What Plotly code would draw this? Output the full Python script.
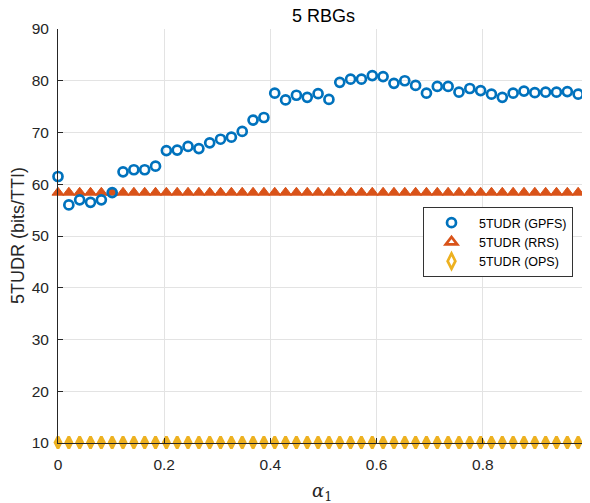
import numpy as np
import plotly.graph_objects as go

alpha = np.linspace(0, 1, 50)

gpfs = [61.5, 56.0, 57.0, 56.5, 57.0, 58.4, 62.4, 62.8, 62.8, 63.5,
        66.5, 66.6, 67.3, 66.9, 68.0, 68.7, 69.1, 70.2, 72.4, 72.9,
        77.6, 76.3, 77.2, 76.8, 77.5, 76.4, 79.7, 80.3, 80.3, 81.0,
        80.8, 79.5, 80.0, 79.1, 77.6, 78.9, 78.9, 77.8, 78.5, 78.1,
        77.4, 76.8, 77.6, 78.0, 77.7, 77.8, 77.8, 77.9, 77.4, 77.1]
rrs_value = 58.4
ops_value = 10.1
rrs = [rrs_value] * len(alpha)
ops = [ops_value] * len(alpha)

names = ["5TUDR (GPFS)", "5TUDR (RRS)", "5TUDR (OPS)"]
title_text = "5 RBGs"
xlabel = "<i>α</i><sub>1</sub>"
ylabel = "5TUDR (bits/TTI)"
xticks = [0, 0.2, 0.4, 0.6, 0.8, 1]
xticklabels = ["0", "0.2", "0.4", "0.6", "0.8", "1"]
yticks = [10, 20, 30, 40, 50, 60, 70, 80, 90]

BLUE = "#0072BD"
ORANGE = "#D95319"
YELLOW = "#EDB120"
FONT = "Liberation Sans, Arial, sans-serif"
AX = "#262626"

# page has an 8px body margin; layout numbers below are in figure coordinates
L, R, T, B = 50, 9, 21, 68
PW = 590 - L - R
PH = 503 - T - B

fig = go.Figure()

fig.add_trace(go.Scatter(x=alpha, y=rrs, mode="markers", showlegend=False,
                         marker=dict(symbol="triangle-up", size=10.5, color=ORANGE,
                                     line=dict(color=ORANGE, width=1)),
                         cliponaxis=False))
fig.add_trace(go.Scatter(x=alpha, y=ops, mode="markers", showlegend=False,
                         marker=dict(symbol="diamond-tall", size=8.5, color=YELLOW,
                                     line=dict(color=YELLOW, width=2.8)),
                         cliponaxis=False))
fig.add_trace(go.Scatter(x=alpha, y=gpfs, mode="markers", showlegend=False,
                         marker=dict(symbol="circle-open", size=9, color=BLUE,
                                     line=dict(color=BLUE, width=2.7)),
                         cliponaxis=False))

fig.add_trace(go.Scatter(x=[None], y=[None], mode="markers", name=names[0],
                         marker=dict(symbol="circle-open", size=9, color=BLUE,
                                     line=dict(color=BLUE, width=2.7))))
fig.add_trace(go.Scatter(x=[None], y=[None], mode="markers", name=names[1],
                         marker=dict(symbol="triangle-up-open", size=10, color=ORANGE,
                                     line=dict(color=ORANGE, width=2.7))))
fig.add_trace(go.Scatter(x=[None], y=[None], mode="markers", name=names[2],
                         marker=dict(symbol="diamond-tall-open", size=11, color=YELLOW,
                                     line=dict(color=YELLOW, width=2.7))))

fig.update_layout(
    width=590, height=503,
    margin=dict(l=L, r=R, t=T, b=B, autoexpand=False),
    paper_bgcolor="white", plot_bgcolor="white",
    font=dict(family=FONT, color=AX, size=15),
    title=dict(text=title_text, x=0.5, xref="paper", xanchor="center",
               y=1 - 8 / 503, yref="container", yanchor="middle",
               font=dict(size=18, color="#000000", family=FONT)),
    showlegend=True,
    legend=dict(x=(415 - L) / PW, y=(T + PH - 199) / PH, xanchor="left", yanchor="top",
                bgcolor="white", bordercolor="#333333", borderwidth=1,
                font=dict(size=12.5, color="#000000", family=FONT),
                itemwidth=45, tracegroupgap=0),
    annotations=[
        dict(text=ylabel, xref="paper", yref="paper", x=(10 - L) / PW, y=0.5,
             xanchor="center", yanchor="middle", textangle=-90, showarrow=False,
             font=dict(size=18, color=AX, family=FONT)),
        dict(text=xlabel, xref="paper", yref="paper", x=(314 - L) / PW,
             y=(T + PH - 484) / PH, xanchor="center", yanchor="middle", showarrow=False,
             font=dict(size=18, color=AX, family="DejaVu Serif, serif")),
    ],
)

fig.update_xaxes(range=[0, 1], tickvals=xticks, ticktext=xticklabels,
                 automargin=False,
                 showgrid=True, gridcolor="#e3e3e3", gridwidth=1,
                 showline=True, linecolor=AX, linewidth=1,
                 ticks="inside", ticklen=5, tickcolor=AX, ticklabelstandoff=7,
                 zeroline=False, tickfont=dict(size=15.5, color=AX))
fig.update_yaxes(range=[10, 90], tickvals=yticks,
                 automargin=False,
                 showgrid=True, gridcolor="#e3e3e3", gridwidth=1,
                 showline=True, linecolor=AX, linewidth=1,
                 ticks="inside", ticklen=5, tickcolor=AX, ticklabelstandoff=5,
                 zeroline=False, tickfont=dict(size=15.5, color=AX))

fig.write_html("out.html")
